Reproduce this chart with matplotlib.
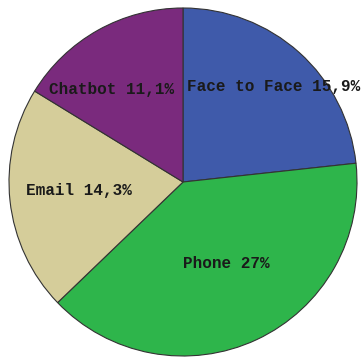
import matplotlib.pyplot as plt

# Share of contacts by channel
channels = ['Face to Face', 'Phone', 'Email', 'Chatbot']
shares = [15.9, 27, 14.3, 11.1]
colors = ['#3f5aaa', '#2eb54b', '#d5cd9a', '#7a2a7d']

# where each label sits (pie radius = 1)
label_pos = [(0.52, 0.55), (0.25, -0.47), (-0.60, -0.05), (-0.41, 0.53)]


def fmt(v):
    s = ('%.1f' % v).rstrip('0').rstrip('.')
    return s.replace('.', ',') + '%'


fig = plt.figure(figsize=(3.64, 3.57), dpi=100)
ax = fig.add_axes([0, 0, 1, 1])
ax.pie(shares, colors=colors, startangle=90, counterclock=False,
       wedgeprops=dict(edgecolor='#333333', linewidth=0.8))

for name, v, (x, y) in zip(channels, shares, label_pos):
    ax.text(x, y, f'{name} {fmt(v)}', ha='center', va='center',
            family='Liberation Mono', fontweight='bold', fontsize=11.5,
            color='#1a1a1a')

r = 174.0
ax.set_xlim(-183 / r, (364 - 183) / r)
ax.set_ylim(-175 / r, (357 - 175) / r)
ax.set_aspect('auto')
ax.axis('off')
fig.savefig('out.png', dpi=100)
